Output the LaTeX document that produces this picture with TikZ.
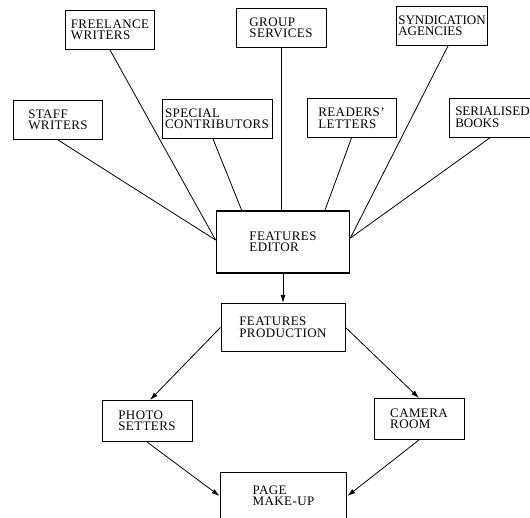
\documentclass[tikz,border=0pt]{standalone}
\usepackage{fontspec}
\setmainfont[LetterSpace=3]{Liberation Serif}
\usepackage{tikz}
\usetikzlibrary{
  arrows.meta,
  positioning,
  calc
}
\tikzset{
  % Box styles
  basebox/.style={
    draw,
    line width=0.9pt,
    align=left,
    inner sep=2pt,
    font=\fontsize{13}{11.5}\selectfont
  },
  sourcebox/.style={basebox, minimum width=89pt, minimum height=39pt},
  stagebox/.style={basebox, minimum width=124pt, minimum height=48pt},
  mainbox/.style={basebox, line width=1.8pt, minimum width=133pt, minimum height=62pt},
  % Connector styles
  feed/.style={line width=0.8pt},
  arrow/.style={-{Latex[length=8pt,width=5pt]}, line width=0.8pt},
}

\begin{document}
\begin{tikzpicture}[x=1pt, y=-1pt]
  \useasboundingbox (0,0) rectangle (530,517);

  % Sources
  \node[sourcebox] (freelance) at (110,30) {FREELANCE\\WRITERS};
  \node[sourcebox, minimum width=90pt] (group) at (281,28) {GROUP\\SERVICES};
  \node[sourcebox, minimum width=91pt, inner xsep=0pt,
        font=\fontsize{13}{11.5}\selectfont\addfontfeature{LetterSpace=0}] (synd) at (442,26) {SYNDICATION\\AGENCIES};
  \node[sourcebox] (staff) at (58,120) {STAFF\\WRITERS};
  \node[sourcebox, minimum width=110pt] (special) at (217,119) {SPECIAL\\CONTRIBUTORS};
  \node[sourcebox] (readers) at (351.5,118) {READERS'\\LETTERS};
  \node[sourcebox, minimum width=86pt, anchor=west,
        font=\fontsize{13}{11.5}\selectfont\addfontfeature{LetterSpace=0}] (serial) at (449,117.5) {SERIALISED\\BOOKS};

  % Editor and production
  \node[mainbox] (editor) at (283,242) {FEATURES\\EDITOR};
  \node[stagebox, below=29pt of editor] (production) {FEATURES\\PRODUCTION};
  \node[sourcebox, minimum width=90pt, minimum height=41pt] (photo) at (147,421) {PHOTO\\SETTERS};
  \node[sourcebox, minimum width=90pt, minimum height=41pt] (camera) at (419,419) {CAMERA\\ROOM};
  \node[mainbox, minimum width=126pt, minimum height=47pt] (makeup) at (283.5,496) {PAGE\\MAKE-UP};

  % Feeds into the editor
  \draw[feed] (freelance.south) -- ([yshift=2pt]editor.west);
  \draw[feed] (staff.south) -- ([yshift=2pt]editor.west);
  \draw[feed] ([xshift=-4pt]special.south) -- ([xshift=26pt]editor.north west);
  \draw[feed] (group.south) -- (group.south |- editor.north);
  \draw[feed] (readers.south) -- ([xshift=42pt]editor.north);
  \draw[feed] ([xshift=6pt]synd.south) -- ([yshift=4pt]editor.east);
  \draw[feed] ([xshift=-2pt]serial.south) -- ([yshift=4pt]editor.east);

  % Production flow
  \draw[arrow] (editor.south) -- (production.north);
  \draw[arrow] (production.west) -- ([xshift=3pt]photo.north);
  \draw[arrow] (production.east) -- (camera.north);
  \draw[arrow] (photo.south) -- (makeup.west);
  \draw[arrow] (camera.south) -- (makeup.east);
\end{tikzpicture}
\end{document}
